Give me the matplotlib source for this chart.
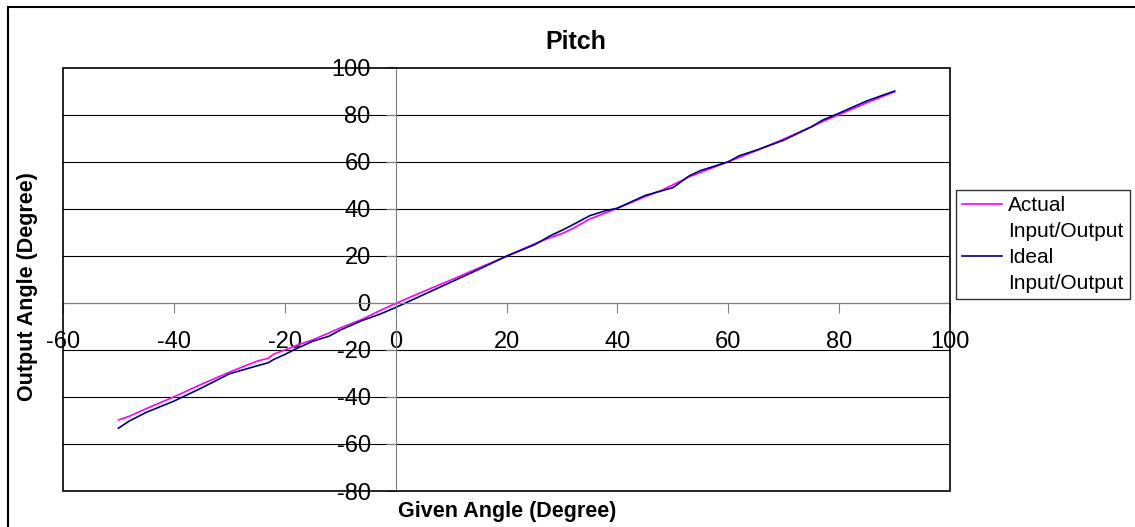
import matplotlib
matplotlib.use("Agg")
import matplotlib.pyplot as plt
from matplotlib.patches import Rectangle
from matplotlib.lines import Line2D

plt.rcParams["font.family"] = ["Liberation Sans", "DejaVu Sans"]
plt.rcParams["axes.unicode_minus"] = False

given = [-50, -48, -45, -40, -35, -30, -25, -23, -22, -20, -18, -15, -12, -10, -6, -3,
         0, 5, 10, 15, 20, 25, 28, 30, 32, 35, 38, 40, 45, 48, 50, 53, 55, 60, 62,
         65, 70, 75, 77, 80, 85, 90]
actual = [-49.8, -48.2, -45.0, -40.0, -34.6, -29.5, -24.8, -23.6, -21.8, -20.1, -18.2,
          -15.8, -12.8, -10.7, -7.0, -3.5, -0.3, 4.8, 9.7, 14.8, 19.8, 25.0, 27.8, 29.4,
          31.6, 35.6, 38.3, 40.2, 45.1, 47.8, 50.1, 53.6, 55.4, 60.0, 61.8, 64.6, 69.6,
          74.8, 77.0, 80.0, 85.0, 89.7]
ideal = [-53.3, -50.2, -46.6, -41.8, -36.2, -30.2, -26.8, -25.5, -24.1, -22.0, -19.6,
         -16.4, -14.2, -11.6, -7.5, -5.0, -2.0, 3.4, 8.8, 14.2, 19.8, 24.6, 28.6, 30.8,
         33.2, 37.0, 39.2, 40.2, 45.6, 47.6, 48.9, 54.0, 56.2, 59.9, 62.5, 64.8, 69.1,
         74.8, 77.6, 80.6, 85.8, 90.0]
series_names = ["Actual", "Ideal"]
colors = ["#ff00ff", "#000080"]

W, H = 1135, 527
fig = plt.figure(figsize=(W / 100, H / 100), dpi=100)
ax = fig.add_axes([63 / W, 1 - 491 / H, 887 / W, 423.5 / H])

ax.plot(given, actual, color=colors[0], lw=1.2)
ax.plot(given, ideal, color=colors[1], lw=1.2)

ax.set_xlim(-60, 100); ax.set_ylim(-80, 100)
ax.set_xticks(range(-60, 101, 20)); ax.set_yticks(range(-80, 101, 20))
for y in range(-80, 101, 20):
    ax.axhline(y, color="black", lw=0.8, zorder=0)

# axes cross at zero, Excel style
for s in ("top", "right"):
    ax.spines[s].set_visible(False)
for s in ("left", "bottom"):
    ax.spines[s].set_position(("data", 0))
    ax.spines[s].set_color("#808080")
ax.tick_params(direction="out", length=7, color="#808080", labelsize=17)
ax.tick_params(axis="x", pad=13)
ax.tick_params(axis="y", pad=11)
ax.add_patch(Rectangle((0, 0), 1, 1, transform=ax.transAxes, fill=False,
                       ec="black", lw=1.2, clip_on=False, zorder=5))

fig.text(576 / W, 1 - 42 / H, "Pitch", ha="center", va="center", fontsize=18, fontweight="bold")
fig.text(507 / W, 1 - 511 / H, "Given Angle (Degree)", ha="center", va="center",
         fontsize=15.5, fontweight="bold")
fig.text(27 / W, 1 - 287 / H, "Output Angle (Degree)", ha="center", va="center",
         rotation=90, fontsize=15.5, fontweight="bold")

# legend: each entry is two text rows, handle sits on the first row
blank = Line2D([], [], color="none")
handles = [Line2D([], [], color=colors[0], lw=1.2), blank,
           Line2D([], [], color=colors[1], lw=1.2), blank]
texts = [series_names[0], "Input/Output", series_names[1], "Input/Output"]
fig.legend(handles, texts, loc="upper left", bbox_to_anchor=(956 / W, 1 - 190 / H),
           frameon=True, fancybox=False, edgecolor="black", fontsize=15,
           handlelength=1.9, handletextpad=0.3, borderpad=0.3, labelspacing=0.33,
           borderaxespad=0)

# chart-area border (cropped at right and bottom)
fig.patches.append(Rectangle((8 / W, -0.2), 1.5, 1.2 - 7 / H, transform=fig.transFigure,
                             fill=False, ec="black", lw=1.5))

fig.savefig("out.png", dpi=100)
